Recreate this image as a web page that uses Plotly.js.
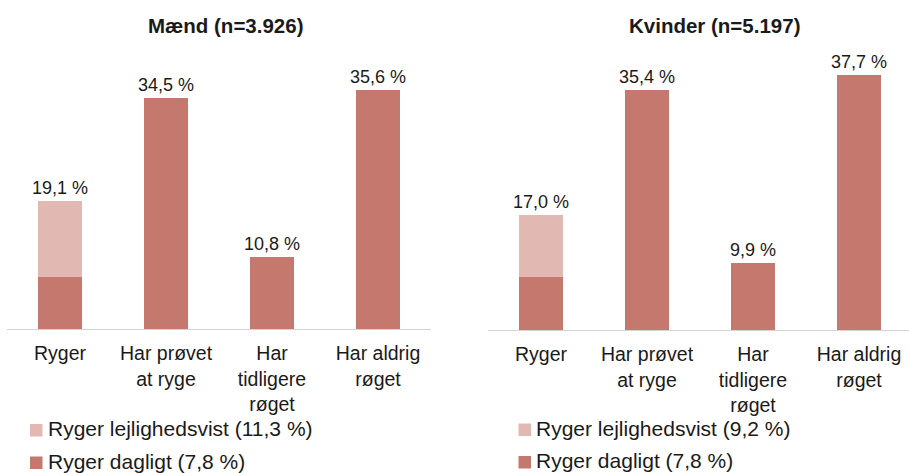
<!DOCTYPE html>
<html>
<head>
<meta charset="utf-8">
<script src="https://cdn.plot.ly/plotly-3.0.1.min.js"></script>
<style>html,body{margin:0;padding:0;background:#fff;}#chart{width:909px;height:473px;}</style>
</head>
<body>
<div id="chart"></div>
<script>
// ---- data ----
var categories = ['Ryger', 'Har prøvet<br>at ryge', 'Har<br>tidligere<br>røget', 'Har aldrig<br>røget'];
var maendMain = [7.8, 34.5, 10.8, 35.6];          // Ryger dagligt + other groups
var maendLejlighed = [11.3, null, null, null];    // Ryger lejlighedsvist
var kvinderMain = [7.8, 35.4, 9.9, 37.7];
var kvinderLejlighed = [9.2, null, null, null];
var maendTitle = 'Mænd (n=3.926)';
var kvinderTitle = 'Kvinder (n=5.197)';
var maendNames = ['Ryger dagligt (7,8 %)', 'Ryger lejlighedsvist (11,3 %)'];
var kvinderNames = ['Ryger dagligt (7,8 %)', 'Ryger lejlighedsvist (9,2 %)'];

// ---- styles ----
var DARK = '#C5786D', LIGHT = '#E2B9B2', TXT = '#1a1a1a';
var FONT = 'Arial, "Liberation Sans", sans-serif';
var W = 909, H = 473;

function fmt(v) { return v.toFixed(1).replace('.', ',') + ' %'; }
function mainText(main, lej) {
  return main.map(function (v, i) { return lej[i] == null ? fmt(v) : ''; });
}
function lejText(main, lej) {
  return lej.map(function (v, i) { return v == null ? '' : fmt(v + main[i]); });
}

function traces(main, lej, names, xa, ya) {
  var common = { type: 'bar', x: categories, xaxis: xa, yaxis: ya, textposition: 'outside',
    constraintext: 'none', cliponaxis: false, showlegend: false, hoverinfo: 'skip',
    textfont: { size: 18, color: TXT, family: FONT } };
  return [
    Object.assign({}, common, { y: main, name: names[0], marker: { color: DARK }, text: mainText(main, lej) }),
    Object.assign({}, common, { y: lej, name: names[1], marker: { color: LIGHT }, text: lejText(main, lej) })
  ];
}

var data = traces(maendMain, maendLejlighed, maendNames, 'x', 'y')
  .concat(traces(kvinderMain, kvinderLejlighed, kvinderNames, 'x2', 'y2'));

function px(x) { return x / W; }
function py(y) { return 1 - y / H; }

var xBase = {
  type: 'category', showline: true, linecolor: '#d4d4d4', linewidth: 1,
  showgrid: false, zeroline: false, ticks: '', fixedrange: true, automargin: false,
  ticklabelstandoff: 7,
  tickfont: { size: 19.5, color: TXT, family: FONT }
};
var yBase = { range: [0, 40], visible: false, showgrid: false, zeroline: false, fixedrange: true, automargin: false };

// legend swatches + labels (drawn as shapes/annotations, order: lejlighedsvist above dagligt)
var shapes = [], annotations = [];
function legendBlock(names, sqLeft, textLeft, rowTops) {
  var items = [{ name: names[1], color: LIGHT }, { name: names[0], color: DARK }];
  items.forEach(function (it, k) {
    var top = rowTops[k];
    shapes.push({ type: 'rect', xref: 'paper', yref: 'paper', x0: px(sqLeft), x1: px(sqLeft + 12.5),
      y0: py(top + 12.5), y1: py(top), fillcolor: it.color, line: { width: 0 } });
    annotations.push({ text: it.name, xref: 'paper', yref: 'paper', x: px(textLeft), y: py(top + 4.5),
      xanchor: 'left', yanchor: 'middle', showarrow: false,
      font: { size: 21, color: TXT, family: FONT } });
  });
}
legendBlock(maendNames, 30, 46, [424, 456.5]);
legendBlock(kvinderNames, 518.5, 534, [423.5, 456]);

annotations.push(
  { text: '<b>' + maendTitle + '</b>', xref: 'paper', yref: 'paper', x: px(226), y: py(26),
    xanchor: 'center', yanchor: 'middle', showarrow: false, font: { size: 20.5, color: TXT, family: FONT } },
  { text: '<b>' + kvinderTitle + '</b>', xref: 'paper', yref: 'paper', x: px(714), y: py(26),
    xanchor: 'center', yanchor: 'middle', showarrow: false, font: { size: 20.5, color: TXT, family: FONT } }
);

var layout = {
  width: W, height: H, paper_bgcolor: '#fff', plot_bgcolor: '#fff',
  margin: { l: 0, r: 0, t: 0, b: 0 },
  barmode: 'stack', bargap: 0.585, showlegend: false,
  font: { family: FONT, color: TXT },
  xaxis: Object.assign({}, xBase, { domain: [px(7), px(431)], range: [-0.5, 3.5], anchor: 'y' }),
  yaxis: Object.assign({}, yBase, { domain: [py(329), py(61)], anchor: 'x' }),
  xaxis2: Object.assign({}, xBase, { domain: [px(488), 1], range: [-0.5, 3.472], anchor: 'y2' }),
  yaxis2: Object.assign({}, yBase, { domain: [py(330), py(59)], anchor: 'x2' }),
  shapes: shapes,
  annotations: annotations
};

Plotly.newPlot('chart', data, layout, { staticPlot: true, displayModeBar: false });
</script>
</body>
</html>
